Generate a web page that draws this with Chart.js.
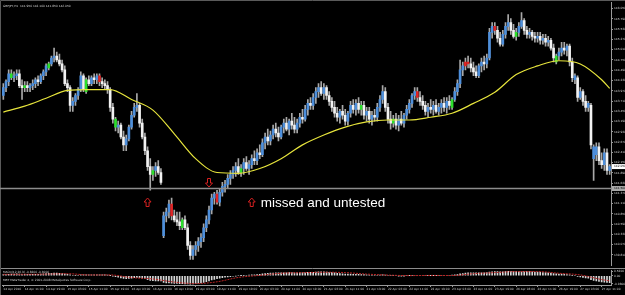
<!DOCTYPE html>
<html>
<head>
<meta charset="utf-8">
<script src="https://cdn.jsdelivr.net/npm/chart.js@4.4.1/dist/chart.umd.min.js"></script>
<style>
  html, body { margin: 0; padding: 0; background: #000; }
  #wrap { position: relative; width: 625px; height: 295px; background: #000; overflow: hidden; }
  #price { position: absolute; left: 0; top: 0; }
  #macd { position: absolute; left: 0; top: 268px; }
</style>
</head>
<body>
<div id="wrap">
  <canvas id="price" width="625" height="268"></canvas>
  <canvas id="macd" width="625" height="27"></canvas>
</div>
<script>
// GBPJPY H1, 14 Apr 2010 - 27 Apr 2010
const opens = [
  143.85, 144.05, 144.20, 144.40, 144.30, 144.35, 144.40, 144.10, 144.05, 144.10,
  144.05, 144.10, 144.15, 144.25, 144.20, 144.35, 144.45, 144.55, 144.65, 144.80,
  144.85, 144.75, 144.65, 144.50, 144.15, 144.05, 143.60, 143.70, 143.85, 144.00,
  144.35, 143.95, 144.25, 144.15, 144.30, 144.25, 144.35, 144.20, 144.15, 144.10,
  144.00, 143.55, 143.25, 143.05, 143.10, 142.80, 142.60, 142.75, 143.05, 143.35,
  143.55, 143.60, 143.15, 142.80, 142.45, 142.05, 141.85, 141.95, 142.05, 141.90,
  140.30, 140.80, 140.90, 141.10, 140.80, 140.70, 140.65, 140.50, 140.70, 140.50,
  140.05, 139.80, 139.95, 140.05, 140.15, 140.25, 140.50, 140.70, 140.95, 141.25,
  141.35, 141.15, 141.40, 141.55, 141.60, 141.75, 141.85, 141.95, 142.05, 141.90,
  142.00, 142.15, 142.00, 142.10, 142.25, 142.20, 142.40, 142.35, 142.65, 142.80,
  142.70, 142.85, 143.00, 142.90, 142.80, 143.05, 143.15, 143.00, 143.20, 143.10,
  143.00, 143.15, 143.30, 143.25, 143.50, 143.65, 143.60, 143.80, 143.95, 144.05,
  143.90, 144.05, 143.85, 143.70, 143.55, 143.40, 143.30, 143.45, 143.35, 143.20,
  143.40, 143.60, 143.50, 143.65, 143.50, 143.60, 143.35, 143.45, 143.25, 143.35,
  143.30, 143.55, 143.75, 143.95, 143.55, 143.25, 143.15, 143.25, 143.10, 143.25,
  143.15, 143.35, 143.50, 143.65, 143.85, 143.95, 143.80, 143.70, 143.60, 143.45,
  143.55, 143.50, 143.60, 143.45, 143.55, 143.65, 143.55, 143.70, 143.55, 143.75,
  143.95, 144.15, 144.50, 144.60, 144.70, 144.65, 144.55, 144.45, 144.35, 144.60,
  144.70, 144.65, 144.80, 145.45, 145.60, 145.50, 145.30, 145.15, 145.40, 145.60,
  145.70, 145.50, 145.35, 145.45, 145.60, 145.75, 145.50, 145.40, 145.45, 145.35,
  145.30, 145.35, 145.25, 145.30, 145.20, 145.25, 145.05, 144.70, 144.85, 144.95,
  145.05, 145.00, 145.10, 144.70, 144.25, 144.30, 143.80, 143.95, 143.70, 143.55,
  143.60, 142.25, 142.35, 142.55, 142.20, 142.10, 142.40, 141.95
];
const highs = [
  144.15, 144.25, 144.50, 144.50, 144.45, 144.50, 144.50, 144.25, 144.20, 144.20,
  144.15, 144.25, 144.30, 144.35, 144.40, 144.50, 144.65, 144.70, 144.85, 145.05,
  144.95, 144.90, 144.75, 144.60, 144.25, 144.10, 143.80, 143.90, 144.05, 144.45,
  144.40, 144.30, 144.35, 144.35, 144.40, 144.40, 144.40, 144.30, 144.25, 144.20,
  144.05, 143.65, 143.30, 143.20, 143.15, 142.95, 142.85, 143.10, 143.45, 143.65,
  143.90, 143.65, 143.25, 142.90, 142.55, 142.25, 142.05, 142.15, 142.20, 142.00,
  140.90, 141.00, 141.20, 141.25, 140.95, 140.90, 140.90, 140.75, 140.80, 140.60,
  140.15, 140.05, 140.15, 140.25, 140.35, 140.60, 140.80, 141.05, 141.35, 141.40,
  141.45, 141.50, 141.65, 141.70, 141.85, 141.95, 142.05, 142.15, 142.25, 142.10,
  142.25, 142.30, 142.20, 142.35, 142.45, 142.50, 142.60, 142.75, 142.90, 143.00,
  142.95, 143.10, 143.15, 143.05, 143.10, 143.25, 143.30, 143.25, 143.40, 143.30,
  143.25, 143.40, 143.50, 143.60, 143.75, 143.80, 143.90, 144.05, 144.15, 144.20,
  144.15, 144.10, 143.95, 143.80, 143.70, 143.55, 143.50, 143.60, 143.50, 143.45,
  143.70, 143.75, 143.75, 143.80, 143.70, 143.70, 143.55, 143.55, 143.45, 143.50,
  143.65, 143.85, 144.10, 144.05, 143.65, 143.45, 143.35, 143.40, 143.35, 143.45,
  143.40, 143.60, 143.75, 143.90, 144.05, 144.05, 143.95, 143.85, 143.70, 143.65,
  143.75, 143.70, 143.75, 143.65, 143.75, 143.80, 143.80, 143.85, 143.80, 144.05,
  144.25, 144.75, 144.70, 144.80, 144.85, 144.80, 144.70, 144.60, 144.65, 144.80,
  144.85, 144.90, 145.55, 145.70, 145.70, 145.60, 145.45, 145.50, 145.70, 145.90,
  145.80, 145.65, 145.55, 145.70, 145.95, 145.80, 145.60, 145.55, 145.50, 145.45,
  145.45, 145.45, 145.40, 145.40, 145.35, 145.30, 145.15, 144.90, 145.05, 145.20,
  145.20, 145.15, 145.15, 144.80, 144.40, 144.35, 144.05, 144.00, 143.85, 143.70,
  143.65, 142.60, 142.65, 142.65, 142.40, 142.50, 142.50, 142.10
];
const lows = [
  143.75, 143.95, 144.10, 144.25, 144.20, 144.25, 144.05, 143.75, 143.95, 143.95,
  143.95, 144.00, 144.05, 144.10, 144.15, 144.25, 144.35, 144.50, 144.60, 144.70,
  144.70, 144.60, 144.45, 144.10, 143.95, 143.45, 143.45, 143.60, 143.75, 143.95,
  143.95, 143.90, 144.10, 144.10, 144.15, 144.15, 144.10, 144.05, 144.00, 143.90,
  143.45, 143.15, 142.95, 142.90, 142.75, 142.45, 142.45, 142.70, 143.00, 143.30,
  143.45, 143.05, 142.75, 142.35, 141.95, 141.45, 141.70, 141.80, 141.85, 141.60,
  140.25, 140.65, 140.75, 140.70, 140.65, 140.55, 140.45, 140.45, 140.45, 139.95,
  139.70, 139.70, 139.80, 139.90, 140.00, 140.15, 140.40, 140.60, 140.85, 141.10,
  141.10, 141.05, 141.30, 141.40, 141.50, 141.60, 141.75, 141.80, 141.85, 141.80,
  141.85, 141.95, 141.85, 142.00, 142.10, 142.10, 142.25, 142.30, 142.50, 142.60,
  142.60, 142.75, 142.80, 142.70, 142.75, 142.90, 142.95, 142.85, 143.00, 142.90,
  142.90, 143.05, 143.15, 143.20, 143.35, 143.50, 143.50, 143.65, 143.80, 143.85,
  143.75, 143.75, 143.60, 143.45, 143.30, 143.20, 143.15, 143.25, 143.10, 143.10,
  143.30, 143.40, 143.35, 143.40, 143.35, 143.25, 143.20, 143.15, 143.10, 143.20,
  143.20, 143.45, 143.65, 143.45, 143.15, 143.00, 143.05, 143.00, 142.95, 143.10,
  143.05, 143.25, 143.40, 143.55, 143.75, 143.70, 143.60, 143.50, 143.35, 143.30,
  143.40, 143.35, 143.40, 143.35, 143.40, 143.45, 143.40, 143.50, 143.50, 143.70,
  143.85, 144.05, 144.35, 144.50, 144.55, 144.45, 144.35, 144.30, 144.30, 144.45,
  144.50, 144.55, 144.75, 145.30, 145.40, 145.20, 145.10, 145.10, 145.30, 145.50,
  145.40, 145.30, 145.25, 145.35, 145.55, 145.40, 145.30, 145.30, 145.25, 145.20,
  145.20, 145.15, 145.15, 145.10, 145.10, 145.00, 144.70, 144.65, 144.75, 144.85,
  144.90, 144.85, 144.60, 144.20, 144.15, 143.70, 143.75, 143.60, 143.45, 143.45,
  142.50, 141.70, 142.20, 142.10, 142.00, 141.95, 141.85, 141.85
];
const closes = [
  144.05, 144.20, 144.40, 144.30, 144.35, 144.40, 144.10, 144.05, 144.10, 144.05,
  144.10, 144.15, 144.25, 144.20, 144.35, 144.45, 144.60, 144.65, 144.80, 144.85,
  144.75, 144.65, 144.50, 144.15, 144.05, 143.60, 143.70, 143.85, 144.00, 144.35,
  144.00, 144.25, 144.15, 144.30, 144.25, 144.35, 144.20, 144.15, 144.10, 144.00,
  143.55, 143.25, 143.05, 143.10, 142.80, 142.60, 142.75, 143.05, 143.35, 143.55,
  143.60, 143.15, 142.80, 142.45, 142.05, 141.85, 141.95, 142.05, 141.90, 141.65,
  140.80, 140.90, 141.10, 140.80, 140.70, 140.65, 140.55, 140.70, 140.50, 140.05,
  139.80, 139.95, 140.05, 140.15, 140.25, 140.50, 140.70, 140.95, 141.25, 141.35,
  141.15, 141.40, 141.55, 141.60, 141.75, 141.85, 141.95, 142.05, 141.90, 142.00,
  142.15, 142.00, 142.10, 142.25, 142.20, 142.40, 142.35, 142.65, 142.80, 142.70,
  142.85, 143.00, 142.90, 142.80, 143.05, 143.15, 143.00, 143.20, 143.10, 143.00,
  143.15, 143.30, 143.25, 143.50, 143.65, 143.60, 143.80, 143.95, 144.05, 143.90,
  144.05, 143.85, 143.70, 143.55, 143.40, 143.30, 143.45, 143.35, 143.20, 143.40,
  143.60, 143.50, 143.65, 143.50, 143.60, 143.35, 143.45, 143.25, 143.35, 143.30,
  143.55, 143.75, 143.95, 143.55, 143.25, 143.15, 143.25, 143.10, 143.25, 143.15,
  143.35, 143.50, 143.65, 143.85, 143.95, 143.80, 143.70, 143.60, 143.45, 143.55,
  143.50, 143.60, 143.45, 143.55, 143.65, 143.55, 143.70, 143.60, 143.75, 143.95,
  144.15, 144.50, 144.60, 144.70, 144.65, 144.55, 144.45, 144.35, 144.60, 144.70,
  144.65, 144.80, 145.45, 145.60, 145.50, 145.30, 145.15, 145.40, 145.60, 145.70,
  145.50, 145.35, 145.45, 145.60, 145.75, 145.50, 145.40, 145.45, 145.35, 145.30,
  145.35, 145.25, 145.30, 145.20, 145.25, 145.05, 144.80, 144.85, 144.95, 145.05,
  145.00, 145.10, 144.70, 144.30, 144.35, 143.80, 143.95, 143.70, 143.55, 143.65,
  142.60, 142.55, 142.55, 142.20, 142.10, 142.40, 141.95, 142.05
];

// bars painted by the signal indicator
const greenBars = [3, 8, 17, 31, 42, 56, 67, 89, 134, 146, 168, 192, 207];
const redBars = [36, 63, 80, 155, 173, 174, 184];

// yellow moving average, read every 8 bars
const maBars = [0, 8, 16, 24, 32, 40, 48, 56, 64, 72, 80, 88, 96, 104, 112, 120, 128, 136, 144, 152, 160, 168, 176, 184, 192, 200, 208, 216, 224, 227];
const maValues = [143.43, 143.58, 143.78, 143.98, 144.00, 144.00, 143.75, 143.48, 142.88, 142.25, 141.90, 141.88, 142.00, 142.25, 142.60,
  142.85, 143.05, 143.18, 143.23, 143.23, 143.30, 143.40, 143.65, 143.93, 144.38, 144.60, 144.73, 144.65, 144.25, 144.03];

// MACD(12,26,9) main line (histogram), one per bar
const macdValues = [
  0.15, 0.15, 0.18, 0.2, 0.2, 0.22, 0.2, 0.18, 0.17, 0.16, 0.16,
  0.17, 0.18, 0.18, 0.2, 0.22, 0.25, 0.28, 0.3, 0.32, 0.32,
  0.3, 0.27, 0.22, 0.18, 0.1, 0.06, 0.05, 0.06, 0.1, 0.1,
  0.1, 0.1, 0.1, 0.11, 0.12, 0.12, 0.11, 0.1, 0.08, 0.02,
  -0.05, -0.12, -0.18, -0.25, -0.32, -0.35, -0.33, -0.28, -0.22, -0.2,
  -0.22, -0.28, -0.36, -0.45, -0.54, -0.58, -0.6, -0.6, -0.62, -0.8,
  -0.85, -0.86, -0.88, -0.9, -0.92, -0.94, -0.95, -0.96, -0.98, -1.0,
  -0.98, -0.95, -0.9, -0.85, -0.78, -0.7, -0.6, -0.5, -0.42, -0.36,
  -0.3, -0.24, -0.18, -0.14, -0.1, -0.06, -0.03, 0.0, 0.02, 0.04,
  0.06, 0.08, 0.1, 0.12, 0.15, 0.18, 0.22, 0.26, 0.3, 0.32,
  0.33, 0.34, 0.34, 0.35, 0.36, 0.36, 0.37, 0.37, 0.36, 0.36,
  0.37, 0.37, 0.38, 0.4, 0.41, 0.42, 0.44, 0.46, 0.46, 0.47,
  0.45, 0.42, 0.38, 0.34, 0.3, 0.27, 0.24, 0.21, 0.2, 0.2,
  0.18, 0.17, 0.16, 0.15, 0.13, 0.11, 0.09, 0.07, 0.06, 0.06,
  0.08, 0.1, 0.09, 0.06, 0.03, 0.01, 0.0, -0.01, -0.02, -0.02,
  0.0, 0.02, 0.04, 0.06, 0.06, 0.05, 0.04, 0.03, 0.02, 0.02,
  0.02, 0.01, 0.01, 0.02, 0.03, 0.04, 0.05, 0.07, 0.1, 0.15,
  0.22, 0.27, 0.31, 0.34, 0.35, 0.35, 0.34, 0.34, 0.35, 0.36,
  0.37, 0.43, 0.48, 0.5, 0.5, 0.48, 0.48, 0.5, 0.53, 0.54,
  0.53, 0.52, 0.52, 0.54, 0.53, 0.51, 0.49, 0.47, 0.45, 0.43,
  0.41, 0.39, 0.37, 0.35, 0.32, 0.27, 0.23, 0.21, 0.19, 0.17,
  0.15, 0.11, 0.05, 0.0, -0.08, -0.14, -0.2, -0.26, -0.3, -0.45,
  -0.55, -0.62, -0.68, -0.74, -0.76, -0.8, -0.82
];
// MACD signal line, read every 8 bars
const signalValues = [0.17, 0.18, 0.2, 0.25, 0.1, 0.1, -0.22, -0.38, -0.75, -0.93, -0.72, -0.2, 0.05, 0.3, 0.37,
  0.42, 0.38, 0.2, 0.08, 0.02, 0.04, 0.03, 0.25, 0.38, 0.5, 0.5, 0.3, 0.1, -0.45, -0.6];

// one time label every 8 bars
const timeLabels = [
  '14 Apr 2010', '14 Apr 11:00', '14 Apr 19:00', '15 Apr 03:00', '15 Apr 11:00', '15 Apr 19:00',
  '16 Apr 03:00', '16 Apr 11:00', '16 Apr 19:00', '19 Apr 03:00', '19 Apr 11:00', '19 Apr 19:00',
  '20 Apr 03:00', '20 Apr 11:00', '20 Apr 19:00', '21 Apr 03:00', '21 Apr 11:00', '21 Apr 19:00',
  '22 Apr 03:00', '22 Apr 11:00', '22 Apr 19:00', '23 Apr 03:00', '23 Apr 11:00', '23 Apr 19:00',
  '26 Apr 03:00', '26 Apr 11:00', '26 Apr 19:00', '27 Apr 03:00', '27 Apr 11:00'
];
const priceTicks = [146.05, 145.79, 145.53, 145.27, 145.01, 144.75, 144.49, 144.23, 143.97, 143.71, 143.45, 143.19,
  142.93, 142.67, 142.41, 142.15, 141.89, 141.63, 141.37, 141.11, 140.85, 140.59, 140.33, 140.07, 139.81];
const macdTicks = [0.52, 0, -0.98];

const levelPrice = 141.50;
const arrowMarks = [{ bar: 54, dir: 'up' }, { bar: 77, dir: 'down' }, { bar: 93, dir: 'up' }];
const noteText = 'missed and untested';
const noteBar = 93;

const n = opens.length;
const barIdx = opens.map((_, i) => i);
const tiny = '2.9px "DejaVu Sans", sans-serif';
const axisGrey = '#9a9a9a';
const textGrey = '#d2d2d2';

const bodyColors = opens.map((o, i) => {
  if (greenBars.includes(i)) return '#2be02b';
  if (redBars.includes(i)) return '#e02424';
  return closes[i] >= o ? '#4d8fdc' : '#f2f2f2';
});
const maSeries = barIdx.map(() => null);
maBars.forEach((b, k) => { maSeries[b] = maValues[k]; });
const signalSeries = barIdx.map(() => null);
maBars.forEach((b, k) => { signalSeries[b] = signalValues[k]; });

function drawArrow(ctx, cx, cy, dir) {
  const s = dir === 'up' ? 1 : -1;
  ctx.beginPath();
  ctx.moveTo(cx, cy - 4.5 * s);
  ctx.lineTo(cx + 3.5, cy - 0.5 * s);
  ctx.lineTo(cx + 1.5, cy - 0.5 * s);
  ctx.lineTo(cx + 1.5, cy + 4 * s);
  ctx.lineTo(cx - 1.5, cy + 4 * s);
  ctx.lineTo(cx - 1.5, cy - 0.5 * s);
  ctx.lineTo(cx - 3.5, cy - 0.5 * s);
  ctx.closePath();
  ctx.strokeStyle = '#d42020';
  ctx.lineWidth = 1;
  ctx.stroke();
}

function priceBox(ctx, yPix, text, bg) {
  ctx.fillStyle = bg;
  ctx.fillRect(612, yPix - 2.5, 13, 5);
  ctx.fillStyle = '#000';
  ctx.font = tiny;
  ctx.textBaseline = 'middle';
  ctx.textAlign = 'left';
  ctx.fillText(text, 614, yPix);
}

const priceOverlay = {
  id: 'priceOverlay',
  afterDraw(chart) {
    const { ctx, scales: { x, y } } = chart;
    ctx.save();
    ctx.strokeStyle = '#5a5a5a';
    ctx.lineWidth = 1;
    ctx.beginPath();
    ctx.moveTo(0.5, 268);
    ctx.lineTo(0.5, 0.5);
    ctx.lineTo(625, 0.5);
    ctx.stroke();

    const ly = Math.round(y.getPixelForValue(levelPrice)) + 0.5;
    ctx.strokeStyle = '#8c8c8c';
    ctx.lineWidth = 1.5;
    ctx.beginPath();
    ctx.moveTo(0, ly);
    ctx.lineTo(625, ly);
    ctx.stroke();

    arrowMarks.forEach(m => {
      const ax = x.getPixelForValue(m.bar);
      drawArrow(ctx, ax, m.dir === 'up' ? ly + 14 : ly - 6, m.dir);
    });

    ctx.fillStyle = '#ffffff';
    ctx.font = '13.5px "Liberation Sans", Arial, sans-serif';
    ctx.textBaseline = 'alphabetic';
    ctx.textAlign = 'left';
    ctx.fillText(noteText, x.getPixelForValue(noteBar) + 9, ly + 18);

    ctx.fillStyle = textGrey;
    ctx.font = tiny;
    ctx.textBaseline = 'top';
    const last = n - 1;
    ctx.fillText('GBPJPY,H1  ' + [opens[last], highs[last], lows[last], closes[last]].map(v => v.toFixed(3)).join(' '), 3, 5);

    priceBox(ctx, ly, levelPrice.toFixed(3), '#a8a8a8');
    priceBox(ctx, y.getPixelForValue(closes[last]), closes[last].toFixed(3), '#ffffff');
    ctx.restore();
  }
};

new Chart(document.getElementById('price'), {
  data: {
    labels: barIdx,
    datasets: [
      {
        type: 'line', data: maSeries, borderColor: '#e6e43c', borderWidth: 1.2, pointRadius: 0,
        spanGaps: true, cubicInterpolationMode: 'monotone', order: 0
      },
      {
        type: 'bar', data: opens.map((o, i) => [o, closes[i]]), backgroundColor: bodyColors,
        barThickness: 2, grouped: false, order: 1
      },
      {
        type: 'bar', data: lows.map((l, i) => [l, highs[i]]), backgroundColor: '#a8a8a8',
        barThickness: 1, grouped: false, order: 2
      }
    ]
  },
  options: {
    responsive: false,
    animation: false,
    devicePixelRatio: 1,
    layout: { padding: { left: 2, top: 2, right: 0, bottom: 0 } },
    plugins: { legend: { display: false }, tooltip: { enabled: false } },
    scales: {
      x: { type: 'category', offset: true, display: false },
      y: {
        position: 'right',
        min: 139.55,
        max: 146.20,
        afterFit: s => { s.width = 14; },
        afterBuildTicks: s => { s.ticks = priceTicks.map(v => ({ value: v })); },
        grid: { drawOnChartArea: false, drawTicks: true, tickLength: 2, color: axisGrey },
        border: { display: true, color: axisGrey },
        ticks: {
          autoSkip: false, padding: 1, color: textGrey, font: { size: 2.9, family: 'DejaVu Sans' },
          callback: v => v.toFixed(3)
        }
      }
    }
  },
  plugins: [priceOverlay]
});

const macdOverlay = {
  id: 'macdOverlay',
  afterDraw(chart) {
    const { ctx } = chart;
    ctx.save();
    ctx.strokeStyle = '#8c8c8c';
    ctx.lineWidth = 1;
    ctx.beginPath();
    ctx.moveTo(0, 0.5);
    ctx.lineTo(625, 0.5);
    ctx.stroke();
    ctx.strokeStyle = '#5a5a5a';
    ctx.beginPath();
    ctx.moveTo(0.5, 0);
    ctx.lineTo(0.5, 27);
    ctx.stroke();
    ctx.fillStyle = textGrey;
    ctx.font = tiny;
    ctx.textBaseline = 'top';
    ctx.textAlign = 'left';
    ctx.fillText('MACD(12,26,9) ' + macdValues[n - 1].toFixed(4) + ' ' + signalValues[signalValues.length - 1].toFixed(4), 3, 3);
    ctx.fillText('MBT MetaTrader 4, \u00a9 2001-2008 MetaQuotes Software Corp.', 3, 11);
    ctx.restore();
  }
};

new Chart(document.getElementById('macd'), {
  data: {
    labels: barIdx,
    datasets: [
      {
        type: 'line', data: signalSeries, borderColor: '#b82424', borderWidth: 1, borderDash: [2, 1],
        pointRadius: 0, spanGaps: true, cubicInterpolationMode: 'monotone', order: 0
      },
      { type: 'bar', data: macdValues, backgroundColor: '#d8d8d8', barThickness: 1, order: 1 }
    ]
  },
  options: {
    responsive: false,
    animation: false,
    devicePixelRatio: 1,
    layout: { padding: { left: 2, top: 2, right: 0, bottom: 0 } },
    plugins: { legend: { display: false }, tooltip: { enabled: false } },
    scales: {
      x: {
        type: 'category',
        offset: true,
        afterFit: s => { s.height = 10; },
        grid: { drawOnChartArea: false, drawTicks: true, tickLength: 2, color: axisGrey, offset: false },
        border: { display: true, color: axisGrey },
        ticks: {
          autoSkip: false, maxRotation: 0, align: 'start', padding: 1, color: textGrey,
          font: { size: 2.9, family: 'DejaVu Sans' },
          callback: (v, i) => (i % 8 === 0 ? timeLabels[i / 8] : null)
        }
      },
      y: {
        position: 'right',
        min: -1.1,
        max: 0.6,
        afterFit: s => { s.width = 14; },
        afterBuildTicks: s => { s.ticks = macdTicks.map(v => ({ value: v })); },
        grid: { drawOnChartArea: false, drawTicks: true, tickLength: 2, color: axisGrey },
        border: { display: true, color: axisGrey },
        ticks: {
          autoSkip: false, padding: 1, color: textGrey, font: { size: 2.9, family: 'DejaVu Sans' },
          callback: v => (v === 0 ? '0.00' : v.toFixed(4))
        }
      }
    }
  },
  plugins: [macdOverlay]
});
</script>
</body>
</html>
